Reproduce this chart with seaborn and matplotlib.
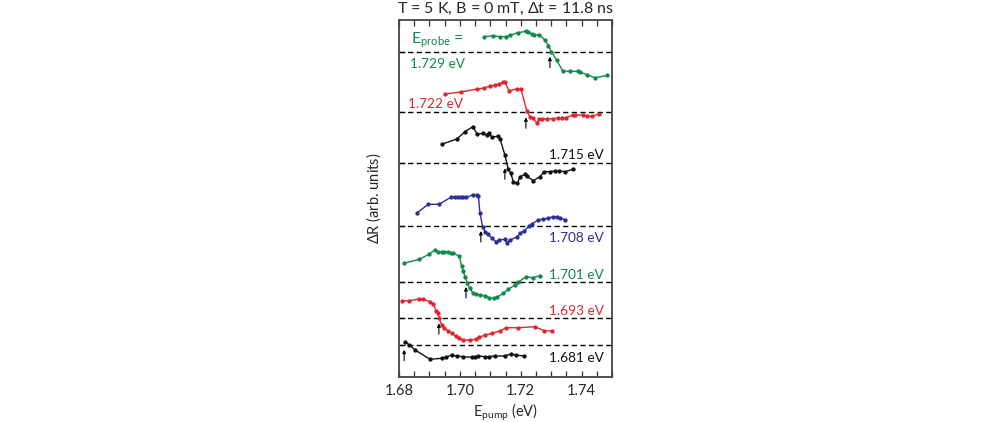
import matplotlib
matplotlib.use("Agg")
import matplotlib.pyplot as plt
from matplotlib.ticker import MultipleLocator, FormatStrFormatter
import seaborn as sns
import numpy as np
import pandas as pd

# probe energies, top to bottom
probe_labels = ['1.729 eV', '1.722 eV', '1.715 eV', '1.708 eV', '1.701 eV', '1.693 eV', '1.681 eV']
probe_colors = ['#0f8a4a', '#e2242f', '#111111', '#2b2f98', '#0f8a4a', '#e2242f', '#111111']
# vertical offset of each trace (zero line), arb. units
baselines = [325.3, 264.7, 213.7, 151.0, 95.0, 58.7, 32.3]
# arrow marks (pump = probe)
arrow_pump = [1.7296, 1.7217, 1.7148, 1.7069, 1.7020, 1.6931, 1.6817]

pump_1729 = [1.7080, 1.7108, 1.7132, 1.7151, 1.7165, 1.7190, 1.7217, 1.7223, 1.7236, 1.7245,
             1.7260, 1.7280, 1.7291, 1.7301, 1.7318, 1.7338, 1.7362, 1.7389, 1.7395, 1.7417,
             1.7444, 1.7485]
dr_1729 = [15, 16, 15, 15, 16.4, 19, 20.4, 20, 17.7, 17,
           17, 11.7, 6, 0, -8.3, -19.3, -19.6, -19.6, -20.3, -23,
           -26, -23.6]

pump_1722 = [1.6951, 1.7004, 1.7057, 1.7080, 1.7099, 1.7115, 1.7130, 1.7143, 1.7148, 1.7162,
             1.7187, 1.7201, 1.7220, 1.7230, 1.7239, 1.7253, 1.7261, 1.7269, 1.7285, 1.7305,
             1.7324, 1.7335, 1.7349, 1.7371, 1.7378, 1.7406, 1.7417, 1.7433, 1.7458]
dr_1722 = [18.3, 20.3, 23.3, 24.3, 26.3, 27, 28.3, 30.6, 30, 21.6,
           23.3, 23, 1.3, -4.4, -6, -10.4, -7, -6.4, -6.7, -6.4,
           -6, -6, -5.4, -2.7, -2.4, -3, -4, -4, -1.7]

pump_1715 = [1.6940, 1.6990, 1.7017, 1.7042, 1.7057, 1.7077, 1.7088, 1.7096, 1.7105, 1.7126,
             1.7132, 1.7148, 1.7159, 1.7167, 1.7176, 1.7189, 1.7198, 1.7214, 1.7220, 1.7241,
             1.7263, 1.7277, 1.7296, 1.7313, 1.7327, 1.7346, 1.7371]
dr_1715 = [19, 24.3, 31.6, 36.6, 29.3, 30, 28.3, 30.6, 26, 27.3,
           24.3, 8.3, -6, -10, -18.4, -20, -13.4, -11, -12.7, -17.4,
           -13.4, -8.4, -8.4, -7.7, -7.7, -8.4, -6]

pump_1708 = [1.6860, 1.6896, 1.6932, 1.6970, 1.6984, 1.6995, 1.7003, 1.7011, 1.7020, 1.7042,
             1.7055, 1.7061, 1.7066, 1.7075, 1.7083, 1.7093, 1.7105, 1.7119, 1.7130, 1.7148,
             1.7154, 1.7165, 1.7189, 1.7198, 1.7212, 1.7228, 1.7236, 1.7258, 1.7274, 1.7291,
             1.7305, 1.7318, 1.7329, 1.7346]
dr_1708 = [13.3, 21.7, 21.7, 28.7, 29.3, 29.3, 28.7, 29.3, 28.7, 31,
           31, 30, 12.7, -0.7, -5.7, -8, -12.3, -15.7, -14, -13.3,
           -16.7, -14, -10.7, -7.3, -4.7, 0, 2, 6, 7, 7.7,
           9.3, 9.3, 8.3, 6]

pump_1701 = [1.6816, 1.6867, 1.6900, 1.6918, 1.6927, 1.6940, 1.6949, 1.6962, 1.6971, 1.6978,
             1.6998, 1.7006, 1.7011, 1.7017, 1.7024, 1.7033, 1.7042, 1.7053, 1.7066, 1.7083,
             1.7097, 1.7112, 1.7121, 1.7143, 1.7159, 1.7181, 1.7192, 1.7217, 1.7239, 1.7263]
dr_1701 = [18.7, 22.7, 28, 32, 30.3, 30.3, 30.3, 30.3, 29.3, 28.7,
           26, 16, 11.3, 4.7, -1.3, -6.3, -10.7, -12.3, -13, -14,
           -15.7, -16.3, -15.3, -11.3, -7.3, -3, -0.3, 5.3, 4.3, 6.3]

pump_1693 = [1.6809, 1.6834, 1.6867, 1.6880, 1.6902, 1.6913, 1.6922, 1.6927, 1.6932, 1.6940,
             1.6949, 1.6962, 1.6973, 1.6987, 1.6998, 1.7009, 1.7033, 1.7053, 1.7064, 1.7083,
             1.7105, 1.7132, 1.7152, 1.7192, 1.7247, 1.7277, 1.7302]
dr_1693 = [17.3, 17.6, 19.3, 19, 16.6, 14, 7.6, 5.6, 0, -6.7,
           -10, -12.7, -15, -17.7, -19.4, -21.7, -21.7, -21, -19, -16.7,
           -15, -12.7, -9.4, -9.4, -8.4, -12.4, -12.7]

pump_1681 = [1.6820, 1.6834, 1.6853, 1.6902, 1.6940, 1.6954, 1.6973, 1.6990, 1.7009, 1.7039,
             1.7050, 1.7061, 1.7083, 1.7097, 1.7115, 1.7148, 1.7167, 1.7184, 1.7211]
dr_1681 = [3, -0.3, -5.3, -14.6, -13.6, -12.6, -10.3, -11.3, -12, -12.6,
           -12.6, -11.3, -12, -12, -11.3, -11.3, -9.3, -10.3, -11.3]

traces = [(pump_1729, dr_1729), (pump_1722, dr_1722), (pump_1715, dr_1715),
          (pump_1708, dr_1708), (pump_1701, dr_1701), (pump_1693, dr_1693),
          (pump_1681, dr_1681)]

rows = []
for lab, base, (xs, ys) in zip(probe_labels, baselines, traces):
    for x, y in zip(xs, ys):
        rows.append({'pump': x, 'dR': base + y, 'probe': lab})
df = pd.DataFrame(rows)

sns.set_style('ticks')
plt.rcParams['font.family'] = ['Lato', 'DejaVu Sans']
plt.rcParams['mathtext.default'] = 'regular'

fig = plt.figure(figsize=(10.04, 4.22), dpi=100)
ax = fig.add_axes([399 / 1004, 45 / 422, 213 / 1004, 357 / 422])

for base in baselines:
    ax.axhline(base, color='k', lw=1.0, ls=(0, (3.8, 2.4)), zorder=1)

sns.lineplot(data=df, x='pump', y='dR', hue='probe', palette=dict(zip(probe_labels, probe_colors)),
             estimator=None, sort=False, marker='o', markersize=3.1, markeredgewidth=0,
             linewidth=1.0, legend=False, ax=ax, zorder=3)

for xa, base in zip(arrow_pump, baselines):
    ax.annotate('', xy=(xa, base - 5), xytext=(xa, base - 16),
                arrowprops=dict(arrowstyle='-|>', color='k', lw=0.8, mutation_scale=5,
                                shrinkA=0, shrinkB=0))

# probe labels
fs = 9.8
ax.text(1.6839, baselines[0] + 11.7, r'$E_{probe}$ =', color=probe_colors[0], fontsize=11.5,
        ha='left', va='center')
ax.text(1.6836, baselines[0] - 12.3, probe_labels[0], color=probe_colors[0], fontsize=fs,
        ha='left', va='center')
ax.text(1.6830, baselines[1] + 8.3, probe_labels[1], color=probe_colors[1], fontsize=fs,
        ha='left', va='center')
right_offsets = [8.6, -11.5, 7.3, 7.3, -13.3]
for lab, col, base, dy in zip(probe_labels[2:], probe_colors[2:], baselines[2:], right_offsets):
    ax.text(1.7474, base + dy, lab, color=col, fontsize=fs, ha='right', va='center')

ax.set_xlim(1.68, 1.75)
ax.set_ylim(0, 357)
ax.set_xticks([1.68, 1.70, 1.72, 1.74])
ax.xaxis.set_major_formatter(FormatStrFormatter('%.2f'))
ax.xaxis.set_minor_locator(MultipleLocator(0.005))
ax.set_yticks(baselines)
ax.set_yticklabels([])
ax.tick_params(axis='x', which='both', direction='in', top=True, length=4, width=0.9,
               labelsize=10.5, pad=5, color='#333333')
ax.tick_params(axis='y', which='both', direction='in', left=True, right=False, length=4,
               width=0.9, color='#333333')
for sp in ax.spines.values():
    sp.set_visible(True)
    sp.set_linewidth(1.3)
    sp.set_color('#444444')

ax.set_xlabel(r'$E_{pump}$ (eV)', fontsize=10.5, labelpad=3)
ax.set_ylabel(r'$\Delta$R (arb. units)', fontsize=10.5, labelpad=8)
ax.set_title(r'T = 5 K, B = 0 mT, $\Delta$t = 11.8 ns', fontsize=11.5, pad=5)

fig.savefig('out.png', dpi=100)
